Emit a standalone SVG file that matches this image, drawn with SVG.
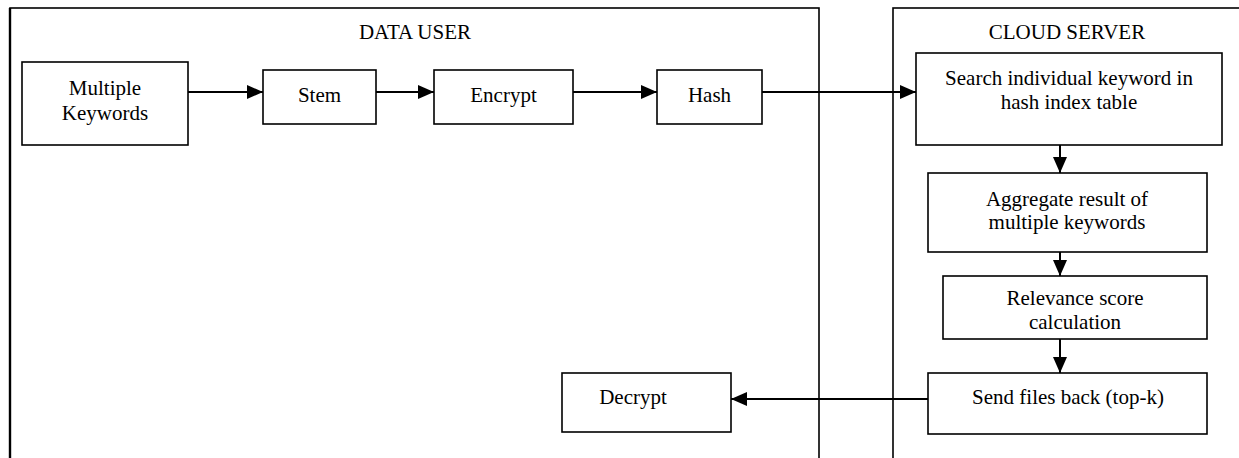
<svg xmlns="http://www.w3.org/2000/svg" width="1239" height="458" viewBox="0 0 1239 458">
  <style>
    .panel { fill: none; stroke: #000; stroke-width: 1.6; }
    .box { fill: #fff; stroke: #000; stroke-width: 1.6; }
    .lbl { font-family: "Liberation Serif", "Times New Roman", serif; font-size: 21px; fill: #000; text-anchor: middle; }
    .edge { fill: none; stroke: #000; stroke-width: 2; }
  </style>
  <defs>
    <marker id="arrow" markerUnits="userSpaceOnUse" markerWidth="16" markerHeight="14" refX="16" refY="7" orient="auto">
      <path d="M0,0 L16,7 L0,14 Z" fill="#000"/>
    </marker>
  </defs>
  <rect width="1239" height="458" fill="#fff"/>

  <!-- swimlane panels -->
  <g id="panel-data-user">
    <rect class="panel" x="10" y="8" width="809" height="470"/>
    <line x1="10" y1="8" x2="10" y2="458" stroke="#000" stroke-width="2.4"/>
    <text class="lbl" x="415" y="39">DATA USER</text>
  </g>
  <g id="panel-cloud-server">
    <rect class="panel" x="893" y="8" width="380" height="470"/>
    <text class="lbl" x="1067" y="39">CLOUD SERVER</text>
  </g>

  <!-- data user steps -->
  <g id="node-keywords">
    <rect class="box" x="22" y="62" width="166" height="83"/>
    <text class="lbl" x="105" y="95">Multiple</text>
    <text class="lbl" x="105" y="120">Keywords</text>
  </g>
  <g id="node-stem">
    <rect class="box" x="263" y="70" width="113" height="54"/>
    <text class="lbl" x="319.5" y="102">Stem</text>
  </g>
  <g id="node-encrypt">
    <rect class="box" x="434" y="70" width="139" height="54"/>
    <text class="lbl" x="503.5" y="102">Encrypt</text>
  </g>
  <g id="node-hash">
    <rect class="box" x="657" y="70" width="105" height="54"/>
    <text class="lbl" x="709.5" y="102">Hash</text>
  </g>
  <g id="node-decrypt">
    <rect class="box" x="562" y="373" width="169" height="59"/>
    <text class="lbl" x="633" y="404">Decrypt</text>
  </g>

  <!-- cloud server steps -->
  <g id="node-search">
    <rect class="box" x="916" y="53" width="306" height="92"/>
    <text class="lbl" x="1069" y="85">Search individual keyword in</text>
    <text class="lbl" x="1069" y="109">hash index table</text>
  </g>
  <g id="node-aggregate">
    <rect class="box" x="928" y="173" width="279" height="79"/>
    <text class="lbl" x="1067" y="206">Aggregate result of</text>
    <text class="lbl" x="1067" y="229">multiple keywords</text>
  </g>
  <g id="node-relevance">
    <rect class="box" x="943" y="276" width="264" height="63"/>
    <text class="lbl" x="1075" y="305">Relevance score</text>
    <text class="lbl" x="1075" y="329">calculation</text>
  </g>
  <g id="node-send">
    <rect class="box" x="928" y="373" width="279" height="61"/>
    <text class="lbl" x="1068" y="404">Send files back (top-k)</text>
  </g>

  <!-- connectors -->
  <g id="connectors">
    <line class="edge" x1="188" y1="92" x2="263" y2="92" marker-end="url(#arrow)"/>
    <line class="edge" x1="376" y1="92" x2="434" y2="92" marker-end="url(#arrow)"/>
    <line class="edge" x1="573" y1="92" x2="657" y2="92" marker-end="url(#arrow)"/>
    <line class="edge" x1="762" y1="92" x2="916" y2="92" marker-end="url(#arrow)"/>
    <line class="edge" x1="1060" y1="145" x2="1060" y2="173" marker-end="url(#arrow)"/>
    <line class="edge" x1="1060" y1="252" x2="1060" y2="276" marker-end="url(#arrow)"/>
    <line class="edge" x1="1060" y1="339" x2="1060" y2="373" marker-end="url(#arrow)"/>
    <line class="edge" x1="928" y1="399" x2="731" y2="399" marker-end="url(#arrow)"/>
  </g>
</svg>
